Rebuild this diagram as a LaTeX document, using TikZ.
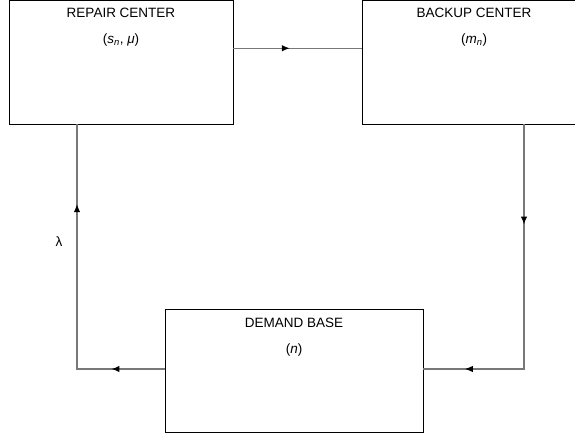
\documentclass[tikz,border=0pt]{standalone}
\usepackage{fontspec}
\setmainfont{Liberation Sans}
\usepackage{tikz}
\usetikzlibrary{arrows.meta,decorations.markings,calc}
\definecolor{linegray}{RGB}{120,120,120}

\begin{document}
\begin{tikzpicture}[
x=1pt, y=-1pt,
font=\fontsize{13.5}{16}\selectfont,
box/.style={draw, line width=0.8pt, inner sep=0pt},
flow/.style={draw=linegray, line width=1.2pt},
tipat/.style={postaction={decorate, decoration={markings,
  mark=at position #1 with {\arrow[black]{Latex[length=8pt,width=6.5pt]}}}}}
]
\useasboundingbox (0,0) rectangle (575,435);
\node[box, minimum width=224pt, minimum height=123.5pt] (repair) at (121,62.25) {};
\node[box, minimum width=224pt, minimum height=123.5pt] (backup) at (474,62.25) {};
\node[box, minimum width=258pt, minimum height=123pt] (demand) at (294,370.5) {};
\node (repair-name) at ([yshift=-13pt]repair.north) {REPAIR CENTER};
\node (repair-par) at ([yshift=-40pt]repair.north) {(\textit{s}\textsubscript{\textit{n}}, \textit{μ})};
\node (backup-name) at ([yshift=-13pt]backup.north) {BACKUP CENTER};
\node (backup-par) at ([yshift=-40pt]backup.north) {(\textit{m}\textsubscript{\textit{n}})};
\node (demand-name) at ([yshift=-14pt]demand.north) {DEMAND BASE};
\node (demand-par) at ([yshift=-41pt]demand.north) {(\textit{n})};
\draw[flow, tipat=0.44] ([yshift=14pt]repair.east) -- ([yshift=14pt]backup.west);
\draw[flow, tipat=0.29, tipat=0.88] ([xshift=50pt]backup.south) |- ([yshift=1.5pt]demand.east);
\draw[flow, tipat=0.16, tipat=0.76] ([yshift=1.5pt]demand.west) -| ([xshift=-44pt]repair.south);
\node (lambda) at (59,242) {λ};
\end{tikzpicture}
\end{document}
